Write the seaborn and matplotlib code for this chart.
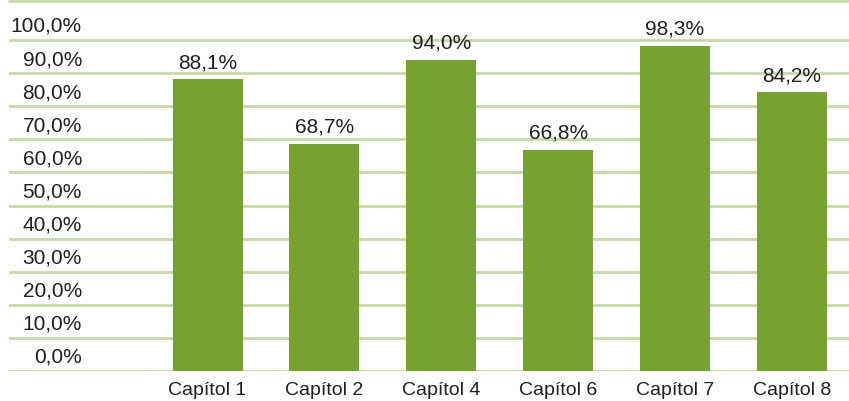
import matplotlib
matplotlib.use("Agg")
import matplotlib.pyplot as plt
import seaborn as sns
import pandas as pd

categories = ["Capítol 1", "Capítol 2", "Capítol 4", "Capítol 6", "Capítol 7", "Capítol 8"]
values = [88.1, 68.7, 94.0, 66.8, 98.3, 84.2]
value_labels = ["88,1%", "68,7%", "94,0%", "66,8%", "98,3%", "84,2%"]
y_ticks = [0, 10, 20, 30, 40, 50, 60, 70, 80, 90, 100]
y_tick_labels = ["0,0%", "10,0%", "20,0%", "30,0%", "40,0%", "50,0%",
                 "60,0%", "70,0%", "80,0%", "90,0%", "100,0%"]

sns.set_theme(style="white")
plt.rcParams['font.family'] = ['Liberation Sans', 'DejaVu Sans']

BAR = "#78a22f"
GRID = "#c6d9a6"
TXT = "#231f20"

df = pd.DataFrame({"cat": categories, "val": values})

fig = plt.figure(figsize=(8.49, 4.01), dpi=100)
W, H = 849, 401
ax = fig.add_axes([9 / W, (H - 371) / H, (849 - 9) / W, (371 - 1) / H])

sns.barplot(data=df, x="cat", y="val", color=BAR, width=0.6, saturation=1,
            linewidth=0, ax=ax, zorder=3)

ax.set_xlim(-1.70, 5.49)
ax.set_ylim(0, 111.8)

for t in y_ticks:
    ax.axhline(t, color=GRID, lw=2, zorder=1)
ax.axhline(111.8, color=GRID, lw=2, zorder=1, clip_on=False)

for sp in ax.spines.values():
    sp.set_visible(False)

ax.set_yticks([])
ax.set_xlabel("")
ax.set_ylabel("")
ax.tick_params(axis="x", length=0, pad=8, labelsize=14, labelcolor=TXT)

# y tick labels placed between gridlines (as in original)
x_lab = -1.70 + (82 - 9) / 117.0
for t, lab in zip(y_ticks, y_tick_labels):
    ax.text(x_lab, t + 4.1, lab, ha="right", va="center", fontsize=15, color=TXT, zorder=4)

for i, (v, lab) in enumerate(zip(values, value_labels)):
    ax.annotate(lab, (i, v), xytext=(0, 5), textcoords="offset points",
                ha="center", va="bottom", fontsize=15, color=TXT)

fig.savefig("out.png", dpi=100)
